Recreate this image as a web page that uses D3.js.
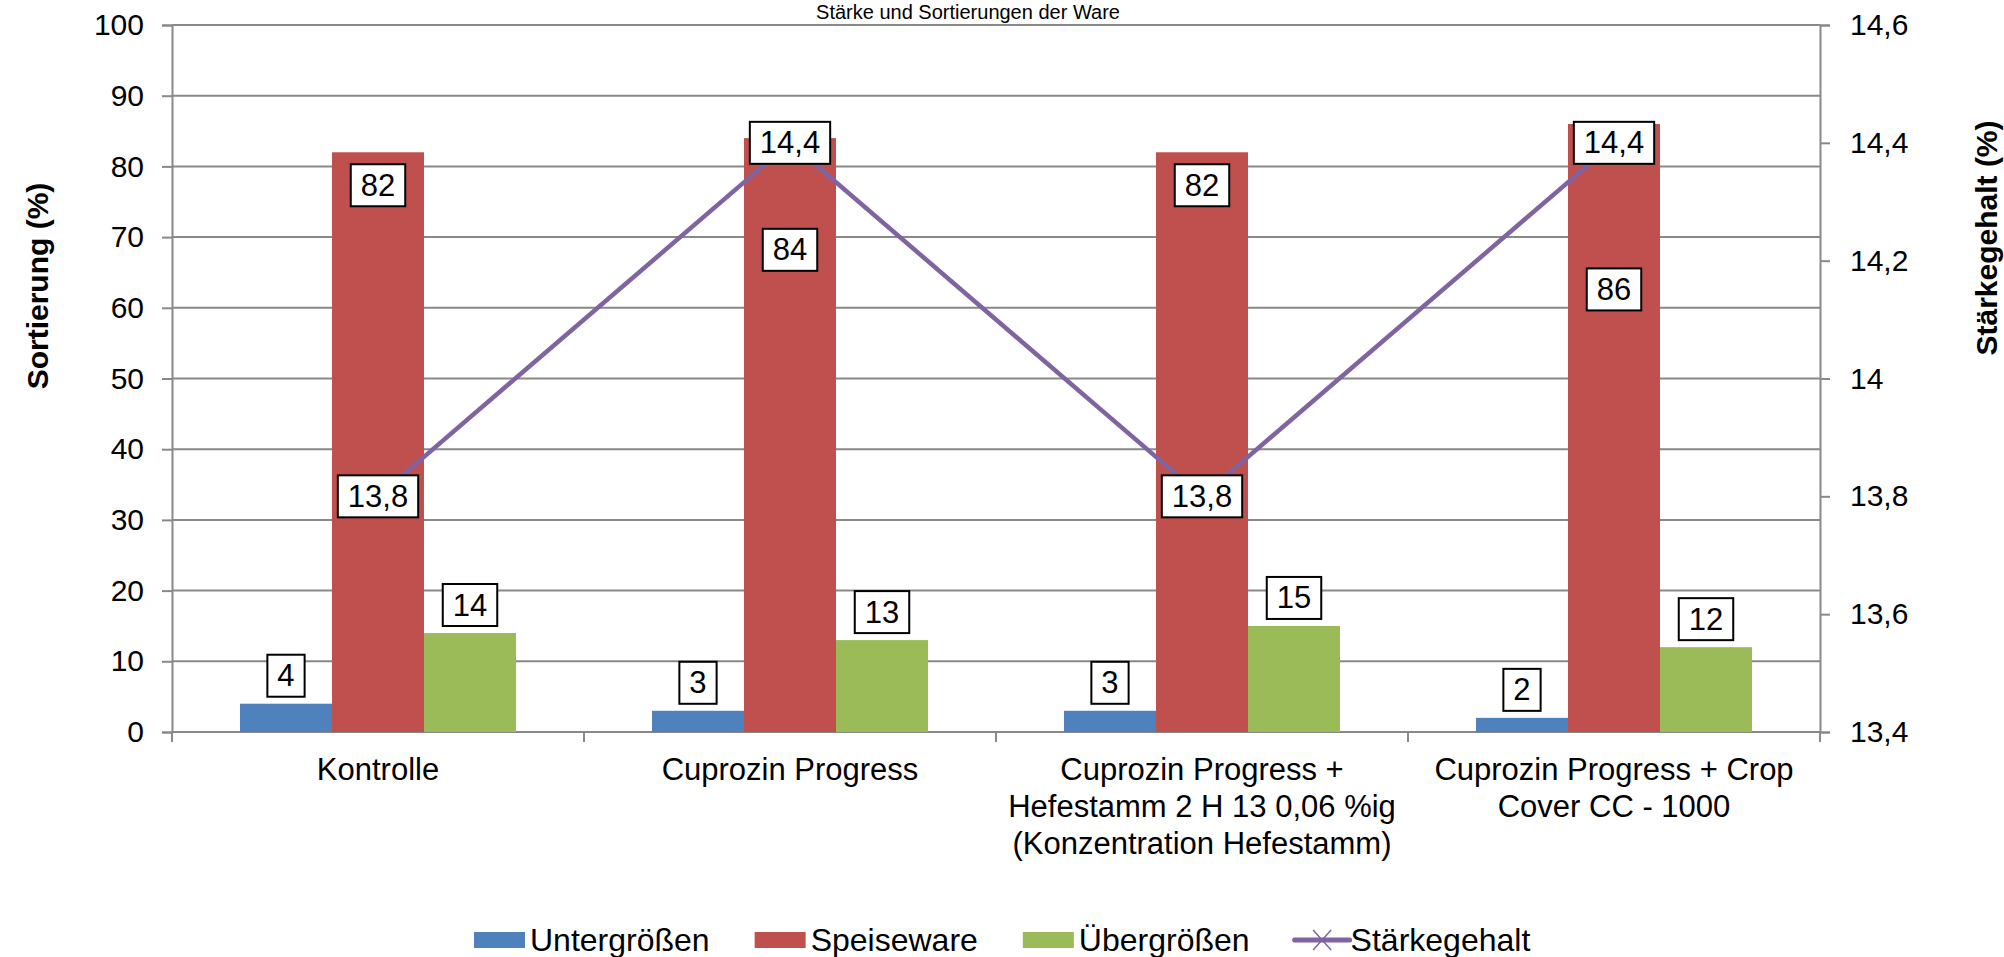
<!DOCTYPE html>
<html>
<head>
<meta charset="utf-8">
<script src="https://cdn.jsdelivr.net/npm/d3@7"></script>
<style>
  html, body { margin: 0; padding: 0; background: #fff; }
  svg { display: block; font-family: "Liberation Sans", Arial, sans-serif; }
</style>
</head>
<body>
<svg id="chart" width="2004" height="957"></svg>
<script>
// ---------- data ----------
const titleText = "Stärke und Sortierungen der Ware";
const categories = [
  ["Kontrolle"],
  ["Cuprozin Progress"],
  ["Cuprozin Progress +", "Hefestamm 2 H 13 0,06 %ig", "(Konzentration Hefestamm)"],
  ["Cuprozin Progress + Crop", "Cover CC - 1000"]
];
const seriesNames = ["Untergrößen", "Speiseware", "Übergrößen"];
const untergroessen = [4, 3, 3, 2];
const speiseware = [82, 84, 82, 86];
const uebergroessen = [14, 13, 15, 12];
const lineName = "Stärkegehalt";
const staerkegehalt = [13.8, 14.4, 13.8, 14.4];
const leftTicks = [0, 10, 20, 30, 40, 50, 60, 70, 80, 90, 100];
const rightTicks = [13.4, 13.6, 13.8, 14, 14.2, 14.4, 14.6];
const leftTitle = "Sortierung (%)";
const rightTitle = "Stärkegehalt (%)";

// ---------- layout / style ----------
const colors = ["#4F81BD", "#C0504D", "#9BBB59"];
const lineColor = "#8064A2";
const gridColor = "#898989";
const plot = { left: 172, right: 1820, top: 25, bottom: 732 };
// manually moved Speiseware labels (value-axis units; null = default inside end)
const speiseLabelAt = [null, 68.2, null, 62.6];

const svg = d3.select("#chart");
const series = [untergroessen, speiseware, uebergroessen];

const x = d3.scaleBand().domain(d3.range(categories.length)).range([plot.left, plot.right]).padding(0);
const xs = d3.scaleBand().domain(d3.range(series.length)).range([0, x.bandwidth()])
  .paddingInner(0).paddingOuter(0.739);
const y = d3.scaleLinear().domain([0, 100]).range([plot.bottom, plot.top]);
const y2 = d3.scaleLinear().domain([13.4, 14.6]).range([plot.bottom, plot.top]);

// title (kept fully visible above the plot area)
svg.append("text").attr("x", 968).attr("y", 19).attr("text-anchor", "middle")
  .attr("font-size", 20).attr("fill", "#000").text(titleText);

// gridlines
svg.append("g").selectAll("line").data(leftTicks).join("line")
  .attr("x1", plot.left).attr("x2", plot.right)
  .attr("y1", d => y(d)).attr("y2", d => y(d))
  .attr("stroke", gridColor).attr("stroke-width", 2);

// left axis
const gl = svg.append("g").attr("transform", `translate(${plot.left},0)`)
  .call(d3.axisLeft(y).tickValues(leftTicks).tickSize(10).tickPadding(18).tickFormat(d3.format("d")));
gl.select(".domain").attr("stroke", gridColor).attr("stroke-width", 2);
gl.selectAll(".tick line").attr("stroke", gridColor).attr("stroke-width", 2);
gl.selectAll(".tick text").attr("font-size", 30).attr("fill", "#000")
  .attr("font-family", "Liberation Sans, Arial, sans-serif");

// right axis
const fmtComma = d => String(+d.toFixed(1)).replace(".", ",");
const gr = svg.append("g").attr("transform", `translate(${plot.right},0)`)
  .call(d3.axisRight(y2).tickValues(rightTicks).tickSize(10).tickPadding(20).tickFormat(fmtComma));
gr.select(".domain").attr("stroke", gridColor).attr("stroke-width", 2);
gr.selectAll(".tick line").attr("stroke", gridColor).attr("stroke-width", 2);
gr.selectAll(".tick text").attr("font-size", 30).attr("fill", "#000")
  .attr("font-family", "Liberation Sans, Arial, sans-serif");

// bottom axis line + ticks at category boundaries
svg.append("line").attr("x1", plot.left).attr("x2", plot.right)
  .attr("y1", plot.bottom).attr("y2", plot.bottom)
  .attr("stroke", gridColor).attr("stroke-width", 2);
const bounds = d3.range(categories.length + 1).map(i => i < categories.length ? x(i) : plot.right);
svg.append("g").selectAll("line").data(bounds).join("line")
  .attr("x1", d => d).attr("x2", d => d)
  .attr("y1", plot.bottom).attr("y2", plot.bottom + 10)
  .attr("stroke", gridColor).attr("stroke-width", 2);

// category labels
const catG = svg.append("g");
categories.forEach((lines, i) => {
  const t = catG.append("text").attr("text-anchor", "middle").attr("font-size", 31).attr("fill", "#000");
  lines.forEach((ln, j) => {
    t.append("tspan").attr("x", x(i) + x.bandwidth() / 2).attr("y", 780 + j * 37).text(ln);
  });
});

// bars
series.forEach((vals, s) => {
  svg.append("g").selectAll("rect").data(vals).join("rect")
    .attr("x", (d, i) => x(i) + xs(s))
    .attr("width", xs.bandwidth())
    .attr("y", d => y(d))
    .attr("height", d => plot.bottom - y(d))
    .attr("fill", colors[s]);
});

// line
const linePts = staerkegehalt.map((v, i) => [x(i) + x.bandwidth() / 2, y2(v)]);
svg.append("path").attr("d", d3.line()(linePts))
  .attr("fill", "none").attr("stroke", lineColor).attr("stroke-width", 4.5);

// boxed labels
function boxLabel(cx, cy, txt) {
  const g = svg.append("g");
  const t = g.append("text").attr("x", cx).attr("y", cy).attr("text-anchor", "middle")
    .attr("dominant-baseline", "central").attr("font-size", 31).attr("fill", "#000").text(txt);
  const w = t.node().getComputedTextLength() + 20;
  const h = 42;
  g.insert("rect", "text").attr("x", cx - w / 2).attr("y", cy - h / 2)
    .attr("width", w).attr("height", h).attr("fill", "#fff")
    .attr("stroke", "#000").attr("stroke-width", 2);
}
const boxH = 42;
// Untergrößen & Übergrößen: outside end
[0, 2].forEach(s => {
  series[s].forEach((v, i) => {
    const cx = x(i) + xs(s) + xs.bandwidth() / 2;
    boxLabel(cx, y(v) - 7 - boxH / 2, String(v));
  });
});
// Speiseware: inside end (some moved)
speiseware.forEach((v, i) => {
  const cx = x(i) + xs(1) + xs.bandwidth() / 2;
  const cy = speiseLabelAt[i] == null ? y(v) + 12 + boxH / 2 : y(speiseLabelAt[i]);
  boxLabel(cx, cy, String(v));
});
// line labels centered on points
staerkegehalt.forEach((v, i) => {
  boxLabel(linePts[i][0], linePts[i][1], fmtComma(v));
});

// axis titles
svg.append("text").attr("transform", "translate(48,286) rotate(-90)")
  .attr("text-anchor", "middle").attr("font-size", 30).attr("font-weight", "bold").text(leftTitle);
svg.append("text").attr("transform", "translate(1997,238) rotate(-90)")
  .attr("text-anchor", "middle").attr("font-size", 30).attr("font-weight", "bold").text(rightTitle);

// legend
const legendItems = seriesNames.map((n, i) => ({ name: n, type: "rect", color: colors[i] }))
  .concat([{ name: lineName, type: "line", color: lineColor }]);
const lg = svg.append("g");
let lx = 474;
const ly = 940;
legendItems.forEach(it => {
  if (it.type === "rect") {
    lg.append("rect").attr("x", lx).attr("y", ly - 8).attr("width", 51).attr("height", 16).attr("fill", it.color);
  } else {
    lg.append("line").attr("x1", lx).attr("x2", lx + 55).attr("y1", ly).attr("y2", ly)
      .attr("stroke", it.color).attr("stroke-width", 5).attr("stroke-linecap", "round");
    const mx = lx + 27.5;
    lg.append("path").attr("d", `M${mx - 9},${ly - 10}L${mx + 9},${ly + 10}M${mx - 9},${ly + 10}L${mx + 9},${ly - 10}`)
      .attr("stroke", it.color).attr("stroke-width", 1.5).attr("fill", "none");
  }
  const t = lg.append("text").attr("x", lx + 56).attr("y", ly + 11).attr("font-size", 32).attr("fill", "#000").text(it.name);
  lx = lx + 56 + t.node().getComputedTextLength() + 45;
});
</script>
</body>
</html>
